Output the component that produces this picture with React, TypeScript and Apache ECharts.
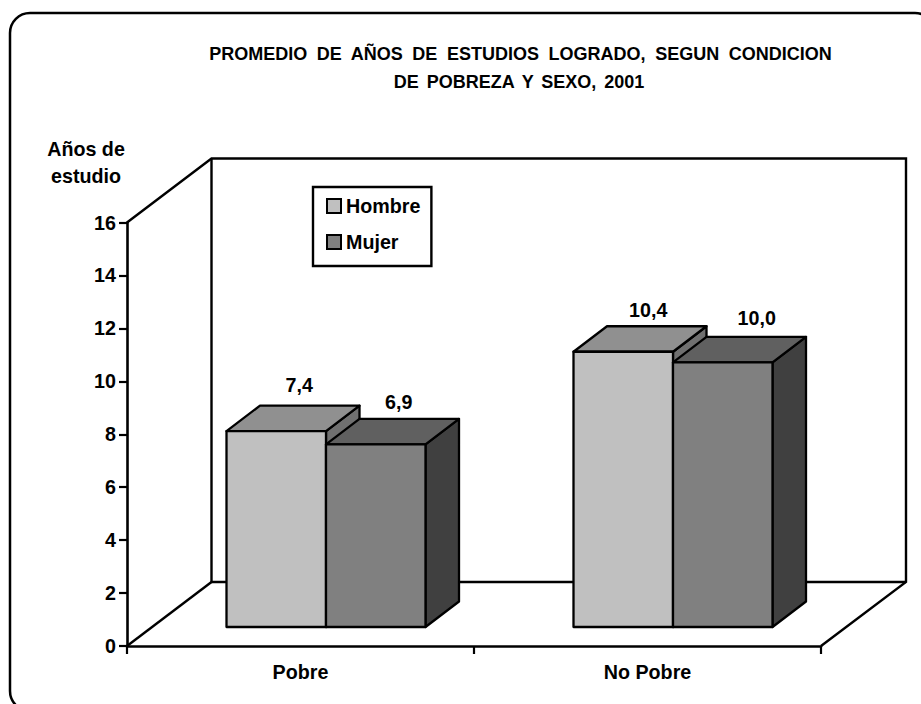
import React, { useEffect, useRef } from "react";
import * as echarts from "echarts";

const categories = ["Pobre", "No Pobre"];
const hombre = [7.4, 10.4];
const mujer = [6.9, 10.0];
const hombreLabels = ["7,4", "10,4"];
const mujerLabels = ["6,9", "10,0"];
const yTicks = { min: 0, max: 16, interval: 2 };
const titleText = "PROMEDIO DE AÑOS DE ESTUDIOS LOGRADO, SEGUN CONDICION\nDE POBREZA Y SEXO, 2001";
const yName = "Años de\nestudio";

const FONT = '"Liberation Sans", Arial, sans-serif';
const FS = 19.7;
const LW = 2.4;
const DX = 33.5, DY = -25.5; // bar depth
const BAR_W = 99.5;
const FRONT_X = 25.5, FRONT_Y = -19; // bars stand inside the floor

const bar3d = (side: -1 | 1, labels: string[], colors: string[], labelOff: number[][]) =>
  (params: any, api: any) => {
    const i = api.value(0);
    const base = api.coord([i, 0]);
    const top = api.coord([i, api.value(1)]);
    const x0 = base[0] + FRONT_X + (side < 0 ? -BAR_W : 0);
    const x1 = x0 + BAR_W;
    const yb = base[1] + FRONT_Y;
    const yt = top[1] + FRONT_Y;
    const st = { stroke: "#000", lineWidth: 2.3, lineJoin: "round" };
    return {
      type: "group",
      children: [
        { type: "polygon", shape: { points: [[x1, yb], [x1 + DX, yb + DY], [x1 + DX, yt + DY], [x1, yt]] }, style: { fill: colors[2], ...st } },
        { type: "polygon", shape: { points: [[x0, yt], [x1, yt], [x1 + DX, yt + DY], [x0 + DX, yt + DY]] }, style: { fill: colors[1], ...st } },
        { type: "rect", shape: { x: x0, y: yt, width: BAR_W, height: yb - yt }, style: { fill: colors[0], ...st } },
        {
          type: "text",
          style: {
            text: labels[i],
            x: (x0 + x1) / 2 + labelOff[i][0],
            y: yt + labelOff[i][1],
            align: "center",
            verticalAlign: "middle",
            font: `bold ${FS}px ${FONT}`,
            fill: "#000",
          },
        },
      ],
    };
  };

export default function App() {
  const ref = useRef<HTMLDivElement>(null);
  useEffect(() => {
    const chart = echarts.init(ref.current!, undefined, { renderer: "svg" });
    const axisLine = { show: true, onZero: false, lineStyle: { color: "#000", width: 2.6 } };
    const axisTick = { show: true, length: 8, lineStyle: { color: "#000", width: 2.2 } };
    const hColors = ["#C0C0C0", "#909090", "#707070"];
    const mColors = ["#808080", "#606060", "#404040"];
    chart.setOption({
      animation: false,
      backgroundColor: "#fff",
      title: {
        text: titleText,
        left: 515.5,
        top: 35,
        textAlign: "center",
        textStyle: { fontFamily: FONT, fontWeight: "bold", fontSize: 18, lineHeight: 28, color: "#000" },
      },
      grid: { left: 127, top: 222.5, width: 694, height: 423.5 },
      legend: {
        left: 313,
        top: 187,
        orient: "vertical",
        padding: [9, 11, 14, 13],
        itemWidth: 14,
        itemHeight: 14,
        itemGap: 16,
        borderColor: "#000",
        borderWidth: 2.4,
        icon: "rect",
        selectedMode: false,
        textStyle: { fontFamily: FONT, fontWeight: "bold", fontSize: FS, color: "#000" },
        data: ["Hombre", "Mujer"],
      },
      xAxis: {
        type: "category",
        data: categories,
        axisLine,
        axisTick: { ...axisTick, alignWithLabel: false },
        axisLabel: { color: "#000", fontFamily: FONT, fontWeight: "bold", fontSize: FS, margin: 16 },
      },
      yAxis: {
        type: "value",
        min: yTicks.min,
        max: yTicks.max,
        interval: yTicks.interval,
        name: yName,
        nameLocation: "end",
        nameGap: 33,
        nameTextStyle: { color: "#000", fontFamily: FONT, fontWeight: "bold", fontSize: FS, lineHeight: 27, align: "center", padding: [0, 82, 0, 0] },
        axisLine,
        axisTick,
        splitLine: { show: false },
        axisLabel: { color: "#000", fontFamily: FONT, fontWeight: "bold", fontSize: FS, margin: 11 },
      },
      graphic: [
        {
          type: "rect",
          z: 0,
          shape: { x: 10, y: 13, width: 925, height: 698, r: 20 },
          style: { fill: "none", stroke: "#000", lineWidth: 2.5 },
        },
        {
          type: "polyline",
          z: 1,
          shape: { points: [[127, 222.5], [211.5, 158.5], [906, 158.5], [906, 582], [821, 646]] },
          style: { fill: "none", stroke: "#000", lineWidth: LW },
        },
        {
          type: "polyline",
          z: 1,
          shape: { points: [[211.5, 158.5], [211.5, 582], [906, 582]] },
          style: { fill: "none", stroke: "#000", lineWidth: LW },
        },
        {
          type: "line",
          z: 1,
          shape: { x1: 127, y1: 646, x2: 211.5, y2: 582 },
          style: { stroke: "#000", lineWidth: LW },
        },
      ],
      series: [
        {
          type: "custom",
          name: "Hombre",
          z: 3,
          itemStyle: { color: hColors[0], borderColor: "#000", borderWidth: 2 },
          encode: { x: 0, y: 1 },
          data: categories.map((_, i) => [i, hombre[i]]),
          renderItem: bar3d(-1, hombreLabels, hColors, [[23, -46], [25, -42]]),
        },
        {
          type: "custom",
          name: "Mujer",
          z: 4,
          itemStyle: { color: mColors[0], borderColor: "#000", borderWidth: 2 },
          encode: { x: 0, y: 1 },
          data: categories.map((_, i) => [i, mujer[i]]),
          renderItem: bar3d(1, mujerLabels, mColors, [[23, -42], [34, -44]]),
        },
      ],
    });
    // the title of the reference has wider gaps between its words
    ref.current!.querySelectorAll("text").forEach((t) => {
      const s = t.textContent || "";
      if (s.startsWith("PROMEDIO")) (t as SVGTextElement).style.wordSpacing = "4.6px";
      if (s.startsWith("DE POBREZA")) {
        (t as SVGTextElement).style.wordSpacing = "2.9px";
        t.setAttribute("dx", "-1.5");
      }
    });
    return () => chart.dispose();
  }, []);
  return <div ref={ref} style={{ position: "absolute", left: 0, top: 0, width: 921, height: 704, background: "#fff" }} />;
}
